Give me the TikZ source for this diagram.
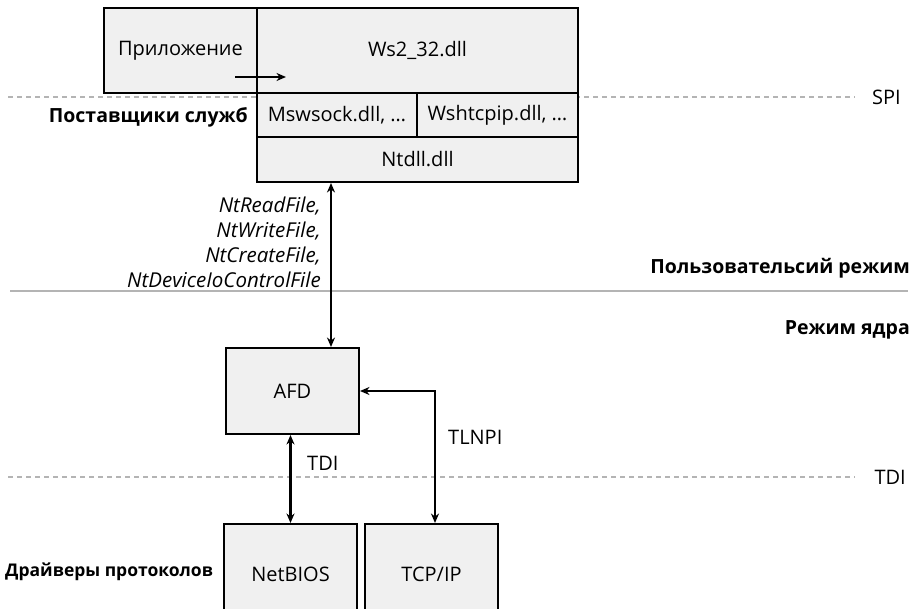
\documentclass[tikz,border=0pt]{standalone}
\usepackage{fontspec}
\setmainfont{Open Sans}
\usetikzlibrary{arrows.meta}
\definecolor{boxfill}{HTML}{F0F0F0}
\definecolor{rulegray}{HTML}{B4B4B4}
\tikzset{
  blk/.style={draw=black, line width=2pt, fill=boxfill, inner sep=0pt, font=\fontsize{20}{24}\selectfont},
  lbl/.style={font=\fontsize{20}{24}\selectfont, inner sep=0pt},
  bold lbl/.style={font=\bfseries\fontsize{19.5}{23}\selectfont, inner sep=0pt},
  sep dashed/.style={draw=rulegray, line width=2pt, dash pattern=on 5pt off 4pt},
  sep solid/.style={draw=rulegray, line width=2pt},
  link/.style={draw=black, line width=2.2pt, {Stealth[length=9.5pt,width=8pt]}-{Stealth[length=9.5pt,width=8pt]}},
  onelink/.style={draw=black, line width=2.2pt, -{Stealth[length=9.5pt,width=8pt]}},
}
\begin{document}
\begin{tikzpicture}[x=1pt,y=-1pt]
  \path[use as bounding box] (0,0) rectangle (915,608);
  \clip (0,0) rectangle (915,608);

  % layer separators
  \draw[sep dashed] (8,97) -- (855,97);
  \draw[sep solid] (10,291) -- (908,291);
  \draw[sep dashed] (8,477) -- (855,477);
  \node[lbl, anchor=east] (spi) at (901,97) {SPI};
  \node[lbl, anchor=east] (tdil) at (906,477) {TDI};
  \node[bold lbl, anchor=east] (umode) at (910,268) {Пользовательсий режим};
  \node[bold lbl, anchor=east] (kmode) at (910,330) {Режим ядра};

  % user mode stack
  \node[blk, minimum width=153pt, minimum height=85pt] (app) at (180.5,50.5) {Приложение};
  \node[blk, minimum width=321pt, minimum height=85pt] (ws2) at (417.5,50.5) {Ws2\_32.dll};
  \node[blk, minimum width=160pt, minimum height=44pt] (msw) at (337,115) {Mswsock.dll, \dots};
  \node[blk, minimum width=161pt, minimum height=44pt] (wsh) at (497.5,115) {Wshtcpip.dll, \dots};
  \node[blk, minimum width=321pt, minimum height=45pt] (ntdll) at (417.5,159.5) {Ntdll.dll};
  \node[bold lbl, anchor=east] (prov) at (248,117) {Поставщики служб};

  \coordinate (appout) at (235,77);
  \coordinate (wsin) at (286,77);
  \draw[onelink] (appout) -- (wsin);

  % kernel mode
  \node[blk, minimum width=133pt, minimum height=86pt] (afd) at (292.5,391) {AFD};
  \node[blk, minimum width=133pt, minimum height=100pt] (nb) at (290.5,574) {NetBIOS};
  \node[blk, minimum width=133pt, minimum height=100pt] (tcp) at (431.5,574) {TCP/IP};
  \node[bold lbl, anchor=west, font=\bfseries\fontsize{17.5}{21}\selectfont] (drv) at (5,572) {Драйверы протоколов};

  \coordinate (sys) at (331,0);
  \draw[link] (ntdll.south -| sys) -- (afd.north -| sys);
  \node[lbl, anchor=east, align=right, font=\itshape\fontsize{20.5}{25}\selectfont] (calls) at (321,242)
    {NtReadFile,\\NtWriteFile,\\NtCreateFile,\\NtDeviceIoControlFile};

  \draw[link] (afd.south -| nb.north) -- (nb.north);
  \node[lbl, anchor=west] (tdi) at (307,463) {TDI};

  \coordinate (tl) at (435,0);
  \draw[link] (afd.east) -| (tcp.north -| tl);
  \node[lbl, anchor=west] (tlnpi) at (448,437) {TLNPI};
\end{tikzpicture}
\end{document}
